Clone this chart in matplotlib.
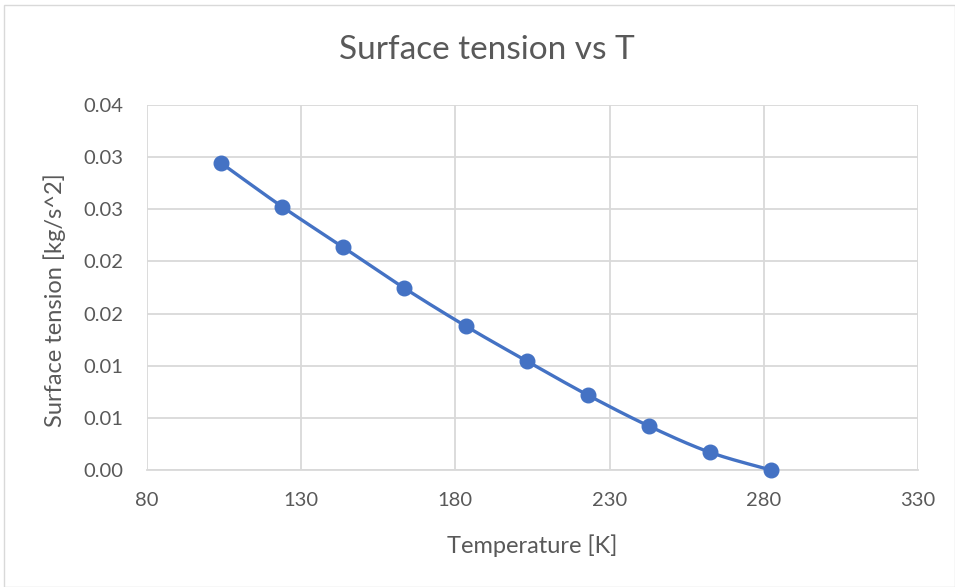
import numpy as np
import matplotlib
matplotlib.use("Agg")
import matplotlib.pyplot as plt
from matplotlib.patches import Rectangle

# Data: surface tension of the liquid between triple point and critical point
temperature = [104.0, 123.8, 143.6, 163.4, 183.3, 203.1, 222.9, 242.7, 262.5, 282.3]
surface_tension = [0.02944, 0.02525, 0.02136, 0.01745, 0.01381, 0.01045, 0.00719, 0.00422, 0.0017, 0.0]

x_ticks = [80, 130, 180, 230, 280, 330]
y_ticks = [0.0, 0.005, 0.010, 0.015, 0.020, 0.025, 0.030, 0.035]
y_tick_labels = ["0.00", "0.01", "0.01", "0.02", "0.02", "0.03", "0.03", "0.04"]

TEXT = "#595959"
GRID = "#d9d9d9"
BLUE = "#4472c4"

plt.rcParams["font.family"] = ["Lato", "DejaVu Sans"]

W, H = 955, 587
fig = plt.figure(figsize=(W / 100, H / 100), dpi=100)

# chart area border
fig.patches.append(Rectangle((4 / W, 0), 1 - 4 / W, 1 - 5 / H, transform=fig.transFigure,
                             fill=False, edgecolor="#d9d9d9", linewidth=1.0))

left, right, top, bottom = 147, 918, 105, 470
ax = fig.add_axes([left / W, 1 - bottom / H, (right - left) / W, (bottom - top) / H])

ax.set_xlim(80, 330)
ax.set_ylim(0, 0.035)
ax.set_xticks(x_ticks)
ax.set_yticks(y_ticks)
ax.set_yticklabels(y_tick_labels)
ax.tick_params(length=0, labelsize=14.5, colors=TEXT)
ax.tick_params(axis="y", pad=17)
ax.tick_params(axis="x", pad=16)
ax.grid(True, color=GRID, linewidth=1.3)
ax.set_axisbelow(True)
for side in ("top", "right", "left"):
    ax.spines[side].set_visible(False)
ax.spines["bottom"].set_color(GRID)
ax.spines["bottom"].set_linewidth(1.3)

# smoothed connecting curve (cubic Bezier / Catmull-Rom through the points)
xs = np.array(temperature)
ys = np.array(surface_tension)
sx = (xs - 80) / 250.0 * (right - left)
sy = ys / 0.035 * (bottom - top)
P = np.column_stack([sx, sy])
curve = []
n = len(P)
for i in range(n - 1):
    p0 = P[max(i - 1, 0)]
    p1 = P[i]
    p2 = P[i + 1]
    p3 = P[min(i + 2, n - 1)]
    c1 = p1 + (p2 - p0) / 6.0
    c2 = p2 - (p3 - p1) / 6.0
    t = np.linspace(0, 1, 30)[:, None]
    seg = (1 - t) ** 3 * p1 + 3 * (1 - t) ** 2 * t * c1 + 3 * (1 - t) * t ** 2 * c2 + t ** 3 * p2
    curve.append(seg if i == 0 else seg[1:])
curve = np.vstack(curve)
cx = curve[:, 0] / (right - left) * 250.0 + 80
cy = curve[:, 1] / (bottom - top) * 0.035

ax.plot(cx, cy, color=BLUE, linewidth=2.4, solid_capstyle="round", clip_on=False, zorder=3)
ax.plot(xs, ys, "o", color=BLUE, markersize=10.5, clip_on=False, zorder=4)

fig.text((left + right) / 2 / W, 1 - 546 / H, "Temperature [K]", ha="center", va="center",
         fontsize=17, color=TEXT)
fig.text(55 / W, 1 - 300 / H, "Surface tension [kg/s^2]", ha="center", va="center",
         rotation=90, fontsize=17, color=TEXT)
fig.text(487 / W, 1 - 50 / H, "Surface tension vs T", ha="center", va="center",
         fontsize=24, color=TEXT)

fig.savefig("out.png", dpi=100)
